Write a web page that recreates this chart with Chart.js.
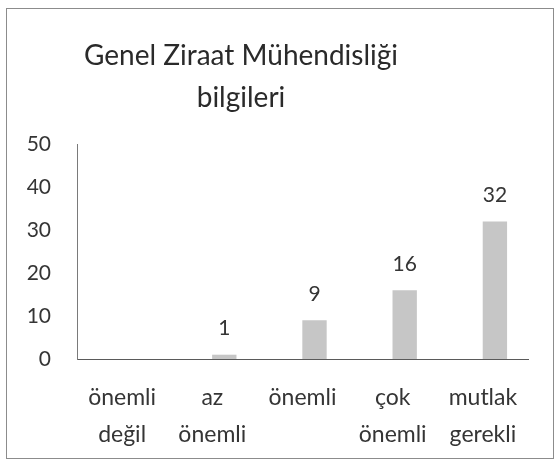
<!DOCTYPE html>
<html>
<head>
<meta charset="utf-8">
<script src="https://cdn.jsdelivr.net/npm/chart.js@4/dist/chart.umd.min.js"></script>
<style>
    html, body { margin: 0; padding: 0; background: #ffffff; }
    #wrap { width: 556px; height: 461px; }
</style>
</head>
<body>
<div id="wrap"><canvas id="chart" width="556" height="461"></canvas></div>
<script>
const titleLines = ["Genel Ziraat Mühendisliği", "bilgileri"];
const categories = [["önemli", "değil"], ["az", "önemli"], ["önemli", ""], ["çok", "önemli"], ["mutlak", "gerekli"]];
const counts = [0, 1, 9, 16, 32];
const yTicks = [0, 10, 20, 30, 40, 50];

const textColor = "#353535";

// frame around the whole chart, like the scanned Excel box
const framePlugin = {
    id: "frame",
    beforeDraw(chart) {
        const ctx = chart.ctx;
        ctx.save();
        ctx.strokeStyle = "#8c8c8c";
        ctx.lineWidth = 1;
        ctx.strokeRect(6.5, 8.5, 547, 450);
        ctx.restore();
    }
};

// two-line title, sits left of centre in the original
const titlePlugin = {
    id: "twoLineTitle",
    afterDraw(chart) {
        const ctx = chart.ctx;
        ctx.save();
        ctx.fillStyle = "#2a2a2a";
        ctx.font = "28px Lato";
        ctx.textAlign = "center";
        ctx.textBaseline = "alphabetic";
        ctx.fillText(titleLines[0], 241, 65);
        ctx.fillText(titleLines[1], 241, 107);
        ctx.restore();
    }
};

// bars sit a little right of their tick labels in the scan
const barShift = 12;
const shiftPlugin = {
    id: "shiftBars",
    beforeDatasetsDraw(chart) {
        chart.ctx.save();
        chart.ctx.translate(barShift, 0);
    },
    afterDatasetsDraw(chart) {
        chart.ctx.restore();
    }
};

const valueLabels = {
    id: "valueLabels",
    afterDatasetsDraw(chart) {
        const ctx = chart.ctx;
        const meta = chart.getDatasetMeta(0);
        ctx.save();
        ctx.fillStyle = textColor;
        ctx.font = "21px Lato";
        ctx.textAlign = "center";
        ctx.textBaseline = "middle";
        meta.data.forEach((bar, i) => {
            const v = counts[i];
            if (!v) return;
            ctx.fillText(String(v), bar.x + barShift, bar.y - 26);
        });
        ctx.restore();
    }
};

new Chart(document.getElementById("chart"), {
    type: "bar",
    plugins: [framePlugin, shiftPlugin, valueLabels, titlePlugin],
    data: {
        labels: categories,
        datasets: [{
            data: counts,
            backgroundColor: "#c6c6c6",
            borderWidth: 0,
            barPercentage: 0.27,
            categoryPercentage: 1
        }]
    },
    options: {
        responsive: false,
        animation: false,
        layout: { padding: { top: 144, left: 27, right: 28, bottom: 8 } },
        plugins: {
            legend: { display: false },
            tooltip: { enabled: false },
            title: { display: false }
        },
        scales: {
            x: {
                afterFit(scale) { scale.height = 94; scale.paddingLeft = 0; scale.paddingRight = 0; },
                grid: { display: false, drawTicks: false },
                border: { display: true, color: "#5a5a5a", width: 1 },
                ticks: {
                    color: textColor,
                    font: { family: "Lato", size: 23, lineHeight: 1.6 },
                    padding: 20,
                    maxRotation: 0,
                    autoSkip: false
                }
            },
            y: {
                min: 0,
                max: 50,
                afterBuildTicks(axis) {
                    axis.ticks = yTicks.map(v => ({ value: v }));
                },
                afterFit(scale) { scale.width = 50; },
                grid: { display: false, drawTicks: false },
                border: { display: true, color: "#7a7a7a", width: 1 },
                ticks: {
                    color: textColor,
                    font: { family: "Lato", size: 21 },
                    padding: 26
                }
            }
        }
    }
});
</script>
</body>
</html>
